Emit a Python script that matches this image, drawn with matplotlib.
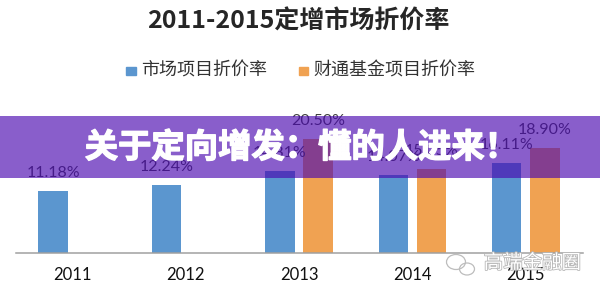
import matplotlib
matplotlib.use("Agg")
import matplotlib.pyplot as plt
import matplotlib.patheffects as pe
from matplotlib.patches import Rectangle, Ellipse
import numpy as np

years = ["2011", "2012", "2013", "2014", "2015"]
market_rate = [11.18, 12.24, 14.81, 14.07, 16.11]
caitong_rate = [None, None, 20.50, 15.05, 18.90]
series_names = ["市场项目折价率", "财通基金项目折价率"]
title = "2011-2015定增市场折价率"
banner = "关于定向增发：懂的人进来！"
watermark = "高端金融圈"

BLUE = "#5b96cf"
ORANGE = "#f0a252"
CJK = ["Noto Sans CJK SC", "DejaVu Sans"]
W, H = 600, 294

fig = plt.figure(figsize=(6, 2.94), dpi=100)
fig.patch.set_facecolor("white")

def fx(px):
    return px / W

def fy(py):
    return (H - py) / H

ax = fig.add_axes([fx(15.5), fy(252.7), 567 / W, 122 / H])
ax.set_xlim(-0.5, 4.5)
ax.set_ylim(0, 22)
x = np.arange(len(years))
bw = 0.26
off = 0.168

ax.bar(x - off, market_rate, width=bw, color=BLUE, zorder=2)
for xi, v in zip(x, market_rate):
    ax.annotate(f"{v:.2f}%", (xi - off, v), xytext=(0, 10), textcoords="offset points",
                ha="center", va="baseline", fontsize=11.5, family="Lato", color="#404040",
                annotation_clip=False)
cx = [xi + off for xi, v in zip(x, caitong_rate) if v is not None]
cv = [v for v in caitong_rate if v is not None]
ax.bar(cx, cv, width=bw, color=ORANGE, zorder=2)
for xi, v in zip(cx, cv):
    ax.annotate(f"{v:.2f}%", (xi, v), xytext=(0, 10), textcoords="offset points",
                ha="center", va="baseline", fontsize=11.5, family="Lato", color="#404040",
                annotation_clip=False)

for s in ["top", "left", "right"]:
    ax.spines[s].set_visible(False)
ax.spines["bottom"].set_color("#a0a0a0")
ax.spines["bottom"].set_linewidth(1.1)
ax.set_yticks([])
ax.set_xticks(x)
ax.set_xticklabels(years, fontsize=12, family="Lato", color="#111111")
ax.tick_params(axis="x", length=0, pad=10.5)
ax.set_facecolor("none")

# title
fig.text(fx(298.5), fy(21.7), title, ha="center", va="center", fontsize=18,
         fontweight="bold", family=CJK, color="#262626")

# legend
fig.add_artist(Rectangle((fx(126.3), fy(75)), 9.5 / W, 8.3 / H, color=BLUE, transform=fig.transFigure))
fig.text(fx(141.5), fy(70.8), series_names[0], ha="left", va="center", fontsize=13,
         family=CJK, color="#333333")
fig.add_artist(Rectangle((fx(298.5), fy(75)), 9.5 / W, 8.3 / H, color=ORANGE, transform=fig.transFigure))
fig.text(fx(313.8), fy(70.8), series_names[1], ha="left", va="center", fontsize=13,
         family=CJK, color="#333333")

# watermark
for (cxp, cyp, wp, hp) in [(456, 262, 19, 15), (467, 269, 15, 12)]:
    fig.add_artist(Ellipse((fx(cxp), fy(cyp)), wp / W, hp / H, fill=False,
                           edgecolor="#bdbdbd", linewidth=0.9, transform=fig.transFigure, zorder=4))
fig.text(fx(532.5), fy(263), watermark, ha="center", va="center", fontsize=14,
         family=CJK, color="white", zorder=4,
         path_effects=[pe.withStroke(linewidth=1.2, foreground="#b8b8b8")])

# banner
fig.add_artist(Rectangle((0, fy(177.7)), 1, 61.7 / H, color="#4a08b0", alpha=0.65,
                         transform=fig.transFigure, zorder=5, linewidth=0))
fig.text(fx(301.7), fy(148), banner, ha="center", va="center", fontsize=24,
         fontweight="bold", family=CJK, color="white", zorder=6,
         path_effects=[pe.withStroke(linewidth=1.0, foreground="white")])

fig.savefig("out.png", dpi=100)
